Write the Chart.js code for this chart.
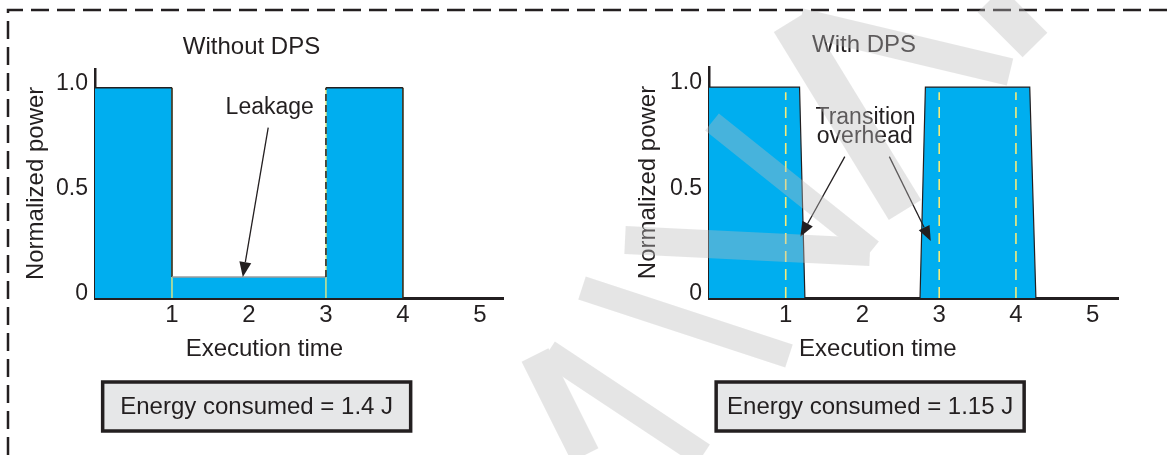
<!DOCTYPE html>
<html>
<head>
<meta charset="utf-8">
<script src="https://cdn.jsdelivr.net/npm/chart.js@4.4.0/dist/chart.umd.min.js"></script>
<style>
    html, body { margin: 0; padding: 0; background: #ffffff; }
    #stage { position: relative; width: 1174px; height: 455px; overflow: hidden; }
    #stage canvas { position: absolute; top: 0; }
    #frame { left: 0; }
    #chartLeft { left: 0; }
    #chartRight { left: 610px; }
    #watermark { left: 0; opacity: 0.38; pointer-events: none; }
</style>
</head>
<body>
<div id="stage">
    <canvas id="frame" width="1174" height="455"></canvas>
    <canvas id="chartLeft" width="504" height="455"></canvas>
    <canvas id="chartRight" width="520" height="455"></canvas>
    <canvas id="watermark" width="1174" height="455"></canvas>
</div>
<script>
const timeTicks = [1, 2, 3, 4, 5];
const powerTicks = [0, 0.5, 1];
const powerTickLabels = ["0", "0.5", "1.0"];

// without DPS: the core idles at leakage power between tasks
const noDpsTime = [0, 1, 1, 3, 3, 4, 4, 5.3];
const noDpsPower = [1, 1, 0.1, 0.1, 1, 1, 0, 0];

// with DPS: power is gated off, switching takes a little time
const dpsTime = [0, 1.18, 1.25, 2.75, 2.82, 4.18, 4.26, 5.33];
const dpsPower = [1, 1, 0, 0, 1, 1, 0, 0];

const phaseMarks = [1, 3, 4];
const energyNoDps = 1.4;
const energyDps = 1.15;

const INK = "#231f20";
const BLUE = "#00aeef";
const YELLOW = "#f3ec7a";
const FONT = "'Liberation Sans', Arial, Helvetica, sans-serif";

Chart.defaults.font.family = FONT;
Chart.defaults.font.size = 24;
Chart.defaults.color = INK;

function toPoints(xs, ys) {
    return xs.map((x, i) => ({ x: x, y: ys[i] }));
}

function markerLines(times, top) {
    return times.flatMap((t) => [{ x: t, y: 0 }, { x: t, y: top }, { x: t, y: null }]);
}

function drawArrow(ctx, x1, y1, x2, y2) {
    const angle = Math.atan2(y2 - y1, x2 - x1);
    const head = 15;
    const half = 6;
    ctx.save();
    ctx.strokeStyle = INK;
    ctx.fillStyle = INK;
    ctx.lineWidth = 1.3;
    ctx.beginPath();
    ctx.moveTo(x1, y1);
    ctx.lineTo(x2 - Math.cos(angle) * head, y2 - Math.sin(angle) * head);
    ctx.stroke();
    ctx.translate(x2, y2);
    ctx.rotate(angle);
    ctx.beginPath();
    ctx.moveTo(0, 0);
    ctx.lineTo(-head, -half);
    ctx.lineTo(-head, half);
    ctx.closePath();
    ctx.fill();
    ctx.restore();
}

function annotations(cfg) {
    return {
        id: "annotations",
        afterDraw(chart) {
            const { ctx, chartArea } = chart;
            const x = chart.scales.x;
            const y = chart.scales.y;
            ctx.save();
            ctx.fillStyle = INK;
            ctx.textAlign = "center";
            ctx.textBaseline = "middle";
            ctx.font = `24px ${FONT}`;
            ctx.fillText("Execution time", x.getPixelForValue(2.2), chartArea.bottom + 51);

            ctx.font = `23px ${FONT}`;
            cfg.notes.forEach((n) => {
                ctx.fillText(n.text, x.getPixelForValue(n.x), y.getPixelForValue(n.y));
            });
            cfg.arrows.forEach((a) => {
                drawArrow(ctx,
                    x.getPixelForValue(a.from[0]), y.getPixelForValue(a.from[1]),
                    x.getPixelForValue(a.to[0]), y.getPixelForValue(a.to[1]));
            });

            // energy box under the axis
            const cx = x.getPixelForValue(2.1);
            const w = 308;
            const h = 49;
            const top = chartArea.bottom + 84;
            ctx.fillStyle = "#e6e7e8";
            ctx.fillRect(cx - w / 2, top, w, h);
            ctx.lineWidth = 3.5;
            ctx.strokeStyle = INK;
            ctx.strokeRect(cx - w / 2, top, w, h);
            ctx.fillStyle = INK;
            ctx.font = `24px ${FONT}`;
            ctx.fillText(`Energy consumed = ${cfg.energy} J`, cx, top + h / 2 + 1);
            ctx.restore();
        }
    };
}

function buildOptions(opts) {
    return {
        responsive: false,
        animation: false,
        layout: { padding: { left: 0, right: opts.padRight, top: 0, bottom: 117 } },
        elements: {
            line: { tension: 0 },
            point: { radius: 0, hoverRadius: 0 }
        },
        plugins: {
            legend: { display: false },
            tooltip: { enabled: false },
            title: {
                display: true,
                text: opts.title,
                color: INK,
                font: { size: 24, weight: "normal" },
                padding: opts.titlePadding
            }
        },
        scales: {
            x: {
                type: "linear",
                min: 0,
                max: opts.xMax,
                z: 1,
                grid: { display: false, drawTicks: false },
                border: { display: true, color: INK, width: 3 },
                ticks: { padding: 3, maxRotation: 0, autoSkip: false, font: { size: 24 } },
                afterBuildTicks: (scale) => {
                    scale.ticks = timeTicks.map((v) => ({ value: v }));
                },
                afterFit: (scale) => {
                    scale.height = 40;
                }
            },
            y: {
                type: "linear",
                min: 0,
                max: opts.yMax,
                z: 1,
                grid: { display: false, drawTicks: false },
                border: { display: true, color: INK, width: 2.5 },
                ticks: {
                    padding: 7,
                    labelOffset: -4,
                    font: { size: 23 },
                    callback: (value, index) => powerTickLabels[index]
                },
                afterBuildTicks: (scale) => {
                    scale.ticks = powerTicks.map((v) => ({ value: v }));
                },
                afterFit: (scale) => {
                    scale.width = opts.yWidth;
                },
                title: {
                    display: true,
                    text: "Normalized power",
                    color: INK,
                    font: { size: 24 },
                    padding: { top: opts.yTitlePad, bottom: 0 }
                }
            }
        }
    };
}

function isVertical(ctx) {
    return ctx.p0.parsed.x === ctx.p1.parsed.x;
}

function initLeftChart() {
    const points = toPoints(noDpsTime, noDpsPower);
    new Chart(document.getElementById("chartLeft"), {
        type: "line",
        data: {
            datasets: [
                {
                    data: points,
                    fill: false,
                    borderColor: INK,
                    borderWidth: 1.5,
                    segment: {
                        borderDash: (ctx) => (isVertical(ctx) ? [7, 4] : undefined),
                        borderColor: (ctx) => {
                            const y0 = ctx.p0.parsed.y;
                            return (!isVertical(ctx) && y0 > 0 && y0 < 1) ? "#9c9c9c" : undefined;
                        }
                    }
                },
                {
                    data: markerLines(phaseMarks, 1),
                    fill: false,
                    borderColor: YELLOW,
                    borderWidth: 1.3,
                    spanGaps: false
                },
                {
                    data: points,
                    fill: "origin",
                    backgroundColor: BLUE,
                    borderWidth: 0
                }
            ]
        },
        options: buildOptions({
            title: "Without DPS",
            titlePadding: { top: 33, bottom: 7 },
            padRight: 1,
            xMax: 5.3,
            yMax: 1.09,
            yWidth: 95,
            yTitlePad: 21.6
        }),
        plugins: [annotations({
            energy: energyNoDps,
            notes: [{ text: "Leakage", x: 2.27, y: 0.905 }],
            arrows: [{ from: [2.25, 0.81], to: [1.92, 0.1] }]
        })]
    });
}

function initRightChart() {
    new Chart(document.getElementById("chartRight"), {
        type: "line",
        data: {
            datasets: [
                {
                    data: markerLines(phaseMarks, 0.975),
                    fill: false,
                    borderColor: YELLOW,
                    borderWidth: 1.6,
                    borderDash: [11, 7],
                    spanGaps: false
                },
                {
                    data: toPoints(dpsTime, dpsPower),
                    fill: "origin",
                    backgroundColor: BLUE,
                    borderColor: INK,
                    borderWidth: 1.2
                }
            ]
        },
        options: buildOptions({
            title: "With DPS",
            titlePadding: { top: 30.6, bottom: 7.6 },
            padRight: 12,
            xMax: 5.33,
            yMax: 1.095,
            yWidth: 99,
            yTitlePad: 23.6
        }),
        plugins: [annotations({
            energy: energyDps,
            notes: [
                { text: "Transition", x: 2.04, y: 0.853 },
                { text: "overhead", x: 2.03, y: 0.763 }
            ],
            arrows: [
                { from: [1.77, 0.67], to: [1.19, 0.29] },
                { from: [2.35, 0.67], to: [2.89, 0.27] }
            ]
        })]
    });
}

function drawFrame() {
    const ctx = document.getElementById("frame").getContext("2d");
    ctx.strokeStyle = INK;
    ctx.lineWidth = 2.5;
    ctx.setLineDash([18, 8]);
    ctx.beginPath();
    ctx.moveTo(8, 455);
    ctx.lineTo(8, 10);
    ctx.lineTo(1174, 10);
    ctx.stroke();
}

function drawWatermark() {
    const ctx = document.getElementById("watermark").getContext("2d");
    const strokes = [
        [535, 355, 585, 455, 30],
        [548, 352, 703, 455, 25],
        [582, 288, 789, 356, 24],
        [625, 240, 870, 252, 28],
        [712, 122, 872, 250, 22],
        [790, 22, 905, 210, 38],
        [800, 22, 1010, 72, 28],
        [990, 0, 1035, 45, 35]
    ];
    ctx.strokeStyle = "#bdbdbd";
    ctx.lineCap = "butt";
    strokes.forEach(([x1, y1, x2, y2, w]) => {
        ctx.lineWidth = w;
        ctx.beginPath();
        ctx.moveTo(x1, y1);
        ctx.lineTo(x2, y2);
        ctx.stroke();
    });
}

drawFrame();
initLeftChart();
initRightChart();
drawWatermark();
</script>
</body>
</html>
